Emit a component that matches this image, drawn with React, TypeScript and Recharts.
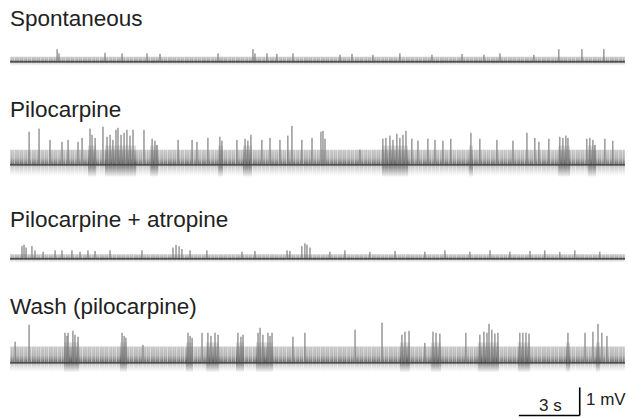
import React from 'react';
import { ComposedChart, Line, Area, XAxis, YAxis, ReferenceArea, ReferenceLine } from 'recharts';

// spike trains: [time s, amplitude mV]
const spontaneousSpikes: [number, number][] = [
  [2.32, 0.45], [2.41, 0.3], [4.68, 0.32], [5.52, 0.3], [6.75, 0.3], [7.39, 0.28],
  [10.25, 0.3], [11.97, 0.45], [12.07, 0.3], [12.66, 0.3], [13.15, 0.28], [13.94, 0.3],
  [16.26, 0.25], [16.85, 0.28], [17.88, 0.25], [19.21, 0.3], [20.79, 0.25], [22.27, 0.28],
  [23.35, 0.25], [24.14, 0.3], [25.81, 0.25], [27.04, 0.45], [28.18, 0.45], [29.26, 0.45],
];

const pilocarpineSpikes: [number, number][] = [
  [0.94, 1.18], [1.43, 1.29], [1.97, 0.89], [2.56, 0.82], [2.86, 0.89], [3.35, 0.82],
  [3.55, 0.96], [3.94, 1.29], [4.04, 1.07], [4.19, 0.96], [4.58, 1.36], [4.78, 1.0],
  [4.93, 1.07], [5.07, 0.89], [5.22, 1.25], [5.32, 1.32], [5.47, 1.07], [5.62, 1.14],
  [5.76, 1.25], [5.91, 1.04], [6.06, 1.25], [6.6, 1.25], [7.0, 0.93], [7.14, 0.86],
  [7.24, 0.71], [8.28, 0.89], [8.97, 0.89], [9.21, 0.82], [9.75, 0.96], [10.34, 1.0],
  [10.44, 0.86], [11.18, 0.89], [11.58, 0.93], [11.72, 0.86], [11.87, 1.07], [12.41, 0.89],
  [12.81, 0.96], [13.3, 0.89], [13.69, 1.04], [13.89, 1.39], [14.38, 0.89], [14.88, 0.96],
  [15.32, 1.18], [15.42, 1.21], [15.52, 0.93], [17.24, 0.54], [18.37, 0.93], [18.52, 0.96],
  [18.72, 1.04], [18.87, 0.89], [19.06, 1.11], [19.21, 0.96], [19.36, 1.07], [19.51, 1.21],
  [19.8, 0.93], [20.1, 0.86], [20.59, 0.93], [20.94, 0.89], [21.33, 0.86], [21.72, 0.93],
  [22.71, 1.14], [23.15, 0.93], [23.99, 0.89], [24.78, 0.86], [25.47, 1.14], [25.86, 0.96],
  [26.06, 0.82], [26.55, 0.93], [27.09, 1.0], [27.24, 0.96], [27.39, 1.04], [27.49, 0.96],
  [28.42, 0.93], [28.57, 0.96], [28.72, 0.89], [28.82, 0.71], [29.31, 0.93], [29.7, 0.86],
];

const atropineSpikes: [number, number][] = [
  [0.59, 0.45], [0.69, 0.5], [0.79, 0.4], [1.08, 0.45], [1.23, 0.3], [1.63, 0.25],
  [2.22, 0.3], [2.56, 0.3], [3.05, 0.3], [3.45, 0.25], [3.84, 0.3], [4.19, 0.28],
  [4.93, 0.3], [6.5, 0.3], [8.03, 0.4], [8.18, 0.5], [8.33, 0.45], [8.47, 0.35],
  [8.87, 0.3], [9.7, 0.3], [11.43, 0.25], [12.07, 0.28], [13.65, 0.3], [13.79, 0.28],
  [14.38, 0.45], [14.53, 0.55], [14.63, 0.5], [14.78, 0.4], [15.76, 0.25], [16.5, 0.3],
  [17.73, 0.25], [18.97, 0.28], [20.44, 0.25], [21.43, 0.3], [22.66, 0.25], [23.65, 0.3],
  [24.63, 0.25], [25.62, 0.28], [26.35, 0.3], [27.09, 0.25], [27.83, 0.3], [29.06, 0.25],
];

const washSpikes: [number, number][] = [
  [0.25, 0.75], [0.94, 1.36], [2.71, 1.07], [2.81, 0.96], [2.86, 1.07], [3.1, 1.14],
  [3.2, 1.0], [3.35, 0.93], [5.52, 1.07], [5.62, 0.96], [5.71, 0.89], [6.55, 0.64],
  [8.77, 1.07], [8.87, 0.96], [8.97, 0.89], [9.46, 1.07], [9.75, 1.07], [9.9, 0.96],
  [10.1, 1.07], [10.25, 1.0], [11.23, 1.07], [11.38, 0.93], [11.48, 1.0], [12.22, 1.07],
  [12.32, 1.25], [12.46, 1.0], [12.71, 1.07], [12.81, 0.96], [12.91, 1.07], [13.94, 0.93],
  [14.53, 1.07], [17.0, 1.18], [18.33, 1.43], [19.31, 1.0], [19.46, 1.11], [19.66, 1.14],
  [20.44, 0.71], [20.84, 1.11], [20.99, 1.07], [21.18, 1.04], [22.46, 1.07], [23.15, 1.0],
  [23.35, 1.11], [23.5, 1.07], [23.6, 1.39], [23.74, 1.18], [23.89, 1.04], [24.04, 1.07],
  [25.12, 1.07], [25.27, 1.07], [25.42, 1.07], [25.57, 1.04], [27.49, 1.07], [28.33, 1.07],
  [28.72, 1.11], [28.97, 1.39], [29.16, 1.07], [29.41, 0.96],
];

// bursts of dense firing: [start s, end s]
const spontaneousBursts: [number, number][] = [];
const pilocarpineBursts: [number, number][] = [
  [3.84, 4.24], [4.68, 6.21], [6.9, 7.29], [10.25, 10.49], [11.48, 11.92],
  [18.33, 19.61], [22.61, 22.81], [27.0, 27.59], [28.47, 28.87],
];
const atropineBursts: [number, number][] = [];
const washBursts: [number, number][] = [
  [2.66, 3.4], [5.42, 5.76], [8.67, 9.01], [9.66, 10.3], [11.13, 11.53], [12.12, 12.96],
  [19.21, 19.7], [20.74, 21.23], [23.05, 24.09], [25.02, 25.62], [27.39, 27.59], [28.87, 29.06],
];

// background activity envelope: top and bottom of the dense band, mV
const bandTop = [0.18, 0.54, 0.16, 0.58];
const bandBottom = [-0.15, -0.42, -0.15, -0.32];

const titles = ['Spontaneous', 'Pilocarpine', 'Pilocarpine + atropine', 'Wash (pilocarpine)'];

const T_END = 30.3;
const PX_PER_MV = 28;
const SCALE_S = 3;
const SCALE_MV = 1;

const font = "'Liberation Sans', Arial, Helvetica, sans-serif";

function spikePath(spikes: [number, number][]) {
  const pts: { t: number; v: number }[] = [{ t: 0, v: 0 }];
  spikes.forEach(([t, h]) => {
    pts.push({ t, v: 0 }, { t, v: h }, { t, v: 0 });
  });
  pts.push({ t: T_END, v: 0 });
  return pts;
}

type TraceProps = {
  idx: number;
  spikes: [number, number][];
  bursts: [number, number][];
  baseline: number;
  lo?: number;
  children?: React.ReactNode;
};

function Trace({ idx, spikes, bursts, baseline, lo = -0.6, children }: TraceProps) {
  const hi = 1.6;
  const height = (hi - lo) * PX_PER_MV;
  const top = bandTop[idx];
  const bot = bandBottom[idx];
  const band = [
    { t: 0, up: [0, top], down: [bot, 0] },
    { t: T_END, up: [0, top], down: [bot, 0] },
  ];
  return (
    <div style={{ position: 'absolute', left: 10, top: baseline - hi * PX_PER_MV }}>
      <ComposedChart width={615} height={height} margin={{ top: 0, right: 0, bottom: 0, left: 0 }}>
        <defs>
          <linearGradient id={`up${idx}`} x1="0" y1="0" x2="0" y2="1">
            <stop offset="0%" stopColor="#b0b0b0" stopOpacity={0.7} />
            <stop offset="55%" stopColor="#9a9a9a" stopOpacity={0.75} />
            <stop offset="100%" stopColor="#555" stopOpacity={0.9} />
          </linearGradient>
          <linearGradient id={`down${idx}`} x1="0" y1="0" x2="0" y2="1">
            <stop offset="0%" stopColor="#777" stopOpacity={0.55} />
            <stop offset="100%" stopColor="#bbb" stopOpacity={0} />
          </linearGradient>
          <linearGradient id={`burst${idx}`} x1="0" y1="0" x2="0" y2="1">
            <stop offset="0%" stopColor="#333" stopOpacity={0.15} />
            <stop offset="70%" stopColor="#222" stopOpacity={0.35} />
            <stop offset="100%" stopColor="#222" stopOpacity={0.05} />
          </linearGradient>
          <pattern id={`tex${idx}`} width="17" height="400" patternUnits="userSpaceOnUse">
            <rect x="0" y="0" width="0.8" height="400" fill="#fff" fillOpacity={0.45} />
            <rect x="2.3" y="0" width="0.6" height="400" fill="#fff" fillOpacity={0.3} />
            <rect x="3.9" y="0" width="1" height="400" fill="#fff" fillOpacity={0.5} />
            <rect x="6.6" y="0" width="0.6" height="400" fill="#fff" fillOpacity={0.25} />
            <rect x="8.8" y="0" width="0.9" height="400" fill="#fff" fillOpacity={0.4} />
            <rect x="11.1" y="0" width="0.5" height="400" fill="#fff" fillOpacity={0.3} />
            <rect x="13.2" y="0" width="1.1" height="400" fill="#fff" fillOpacity={0.45} />
            <rect x="15.5" y="0" width="0.6" height="400" fill="#fff" fillOpacity={0.2} />
          </pattern>
        </defs>
        <XAxis dataKey="t" type="number" domain={[0, T_END]} hide allowDataOverflow />
        <YAxis type="number" domain={[lo, hi]} hide allowDataOverflow />
        <Area data={band} dataKey="up" type="linear" stroke="none" fill={`url(#up${idx})`} fillOpacity={1} isAnimationActive={false} />
        <Area data={band} dataKey="down" type="linear" stroke="none" fill={`url(#down${idx})`} fillOpacity={1} isAnimationActive={false} />
        <Area data={band} dataKey="up" type="linear" stroke="none" fill={`url(#tex${idx})`} fillOpacity={1} isAnimationActive={false} />
        <Area data={band} dataKey="down" type="linear" stroke="none" fill={`url(#tex${idx})`} fillOpacity={1} isAnimationActive={false} />
        {bursts.map(([a, b], i) => (
          <ReferenceArea key={i} x1={a} x2={b} y1={bot} y2={top + 0.15} fill={`url(#burst${idx})`} fillOpacity={1} stroke="none" />
        ))}
        <Line
          data={spikePath(spikes)}
          dataKey="v"
          type="linear"
          stroke="#808080"
          strokeWidth={0.75}
          dot={false}
          activeDot={false}
          isAnimationActive={false}
        />
        <ReferenceLine y={0} stroke="#3a3a3a" strokeWidth={1.3} />
        {children}
      </ComposedChart>
    </div>
  );
}

const titleStyle = (baseline: number): React.CSSProperties => ({
  position: 'absolute',
  left: 10,
  top: baseline - 19,
  fontFamily: font,
  fontSize: 22.5,
  lineHeight: '22.5px',
  color: '#222',
  whiteSpace: 'nowrap',
});

export default function App() {
  const barX = 25.07;
  const barY = -1.88;
  return (
    <div style={{ position: 'absolute', left: 0, top: 0, width: 629, height: 419, background: '#fff', overflow: 'hidden' }}>
      <div style={titleStyle(27)}>{titles[0]}</div>
      <div style={titleStyle(118)}>{titles[1]}</div>
      <div style={titleStyle(228)}>{titles[2]}</div>
      <div style={titleStyle(315)}>{titles[3]}</div>

      <Trace idx={0} spikes={spontaneousSpikes} bursts={spontaneousBursts} baseline={62} />
      <Trace idx={1} spikes={pilocarpineSpikes} bursts={pilocarpineBursts} baseline={165} />
      <Trace idx={2} spikes={atropineSpikes} bursts={atropineBursts} baseline={259} />
      <Trace idx={3} spikes={washSpikes} bursts={washBursts} baseline={363} lo={-2.0}>
        <ReferenceLine
          segment={[{ x: barX, y: barY }, { x: barX + SCALE_S, y: barY }]}
          stroke="#000"
          strokeWidth={1.6}
        />
        <ReferenceLine
          segment={[{ x: barX + SCALE_S, y: barY }, { x: barX + SCALE_S, y: barY + SCALE_MV }]}
          stroke="#000"
          strokeWidth={1.6}
        />
      </Trace>

      <div style={{ position: 'absolute', left: 539, top: 412 - 15, fontFamily: font, fontSize: 17, lineHeight: '17px', color: '#222' }}>
        3 s
      </div>
      <div style={{ position: 'absolute', left: 586, top: 406 - 15, fontFamily: font, fontSize: 17, lineHeight: '17px', color: '#222' }}>
        1 mV
      </div>
    </div>
  );
}
